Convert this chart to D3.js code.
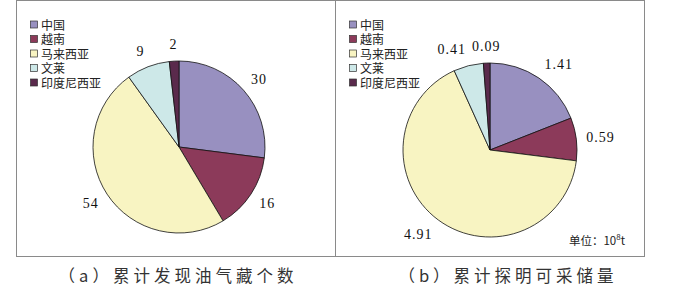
<!DOCTYPE html>
<html>
<head>
<meta charset="utf-8">
<script src="https://d3js.org/d3.v7.min.js"></script>
<style>
  body { margin: 0; background: #fff; }
  svg { display: block; }
  .legend text { font-family: "Noto Sans CJK SC", sans-serif; font-size: 12px; fill: #222; }
  .val { font-family: "Liberation Serif", serif; font-size: 14px; fill: #111; letter-spacing: 1px; }
  .caption { font-family: "Noto Sans CJK SC", sans-serif; font-size: 16.5px; fill: #333; letter-spacing: 4px; }
</style>
</head>
<body>
<div id="chart"></div>
<script>
// 数据
const countries = ["中国", "越南", "马来西亚", "文莱", "印度尼西亚"];
const poolCounts = [30, 16, 54, 9, 2];
const reserves = [1.41, 0.59, 4.91, 0.41, 0.09];
const labelsA = ["30", "16", "54", "9", "2"];
const labelsB = ["1.41", "0.59", "4.91", "0.41", "0.09"];
const colors = ["#9890c0", "#8c3a5a", "#f8f4c2", "#cde8e8", "#5a2a4c"];

const width = 700, height = 289;
const svg = d3.select("#chart").append("svg")
  .attr("width", width).attr("height", height);

const color = d3.scaleOrdinal().domain(countries).range(colors);

const panels = [
  { x0: 16, x1: 335, cx: 179, cy: 147, r: 86, values: poolCounts, labels: labelsA,
    caption: "（a）累计发现油气藏个数", capX: 178 },
  { x0: 335, x1: 644, cx: 490, cy: 150, r: 87, values: reserves, labels: labelsB,
    caption: "（b）累计探明可采储量", capX: 508, unit: true }
];

const pie = d3.pie().sort(null).value(d => d.v);

panels.forEach(p => {
  const g = svg.append("g");
  g.append("rect")
    .attr("x", p.x0 + 0.5).attr("y", 0.5)
    .attr("width", p.x1 - p.x0).attr("height", 256)
    .attr("fill", "#fff").attr("stroke", "#8a8a8a").attr("stroke-width", 1);

  const data = countries.map((c, i) => ({ c: c, v: p.values[i], label: p.labels[i] }));
  const arcs = pie(data);
  const arc = d3.arc().innerRadius(0).outerRadius(p.r);
  const labelArc = d3.arc().innerRadius(p.r + 10).outerRadius(p.r + 10);

  const pg = g.append("g").attr("transform", `translate(${p.cx},${p.cy})`);
  pg.selectAll("path").data(arcs).enter().append("path")
    .attr("d", arc)
    .attr("fill", d => color(d.data.c))
    .attr("stroke", "#111").attr("stroke-width", 0.8);

  pg.selectAll("text").data(arcs).enter().append("text")
    .attr("class", "val")
    .attr("x", d => labelArc.centroid(d)[0])
    .attr("y", d => labelArc.centroid(d)[1])
    .attr("dy", d => {
      const a = (d.startAngle + d.endAngle) / 2;
      return (0.35 - 0.5 * Math.cos(a)) + "em";
    })
    .attr("text-anchor", d => {
      const s = Math.sin((d.startAngle + d.endAngle) / 2);
      return Math.abs(s) < 0.2 ? "middle" : (s > 0 ? "start" : "end");
    })
    .text(d => d.data.label);

  // 图例
  const legend = g.append("g").attr("class", "legend")
    .attr("transform", `translate(${p.x0 + 14},18)`);
  countries.forEach((c, i) => {
    const row = legend.append("g").attr("transform", `translate(0,${i * 14.5})`);
    row.append("rect").attr("x", 0.5).attr("y", 3).attr("width", 7).attr("height", 7)
      .attr("fill", color(c)).attr("stroke", "#333").attr("stroke-width", 0.7);
    row.append("text").attr("x", 11).attr("y", 11.5).text(c);
  });

  if (p.unit) {
    const t = g.append("text").attr("x", 625).attr("y", 245)
      .attr("text-anchor", "end")
      .style("font-family", "'Noto Sans CJK SC', sans-serif")
      .style("font-size", "11.5px").style("fill", "#222");
    t.append("tspan").text("单位：10");
    t.append("tspan").attr("dy", -5).style("font-size", "8px").text("8");
    t.append("tspan").attr("dy", 5).text("t");
  }

  svg.append("text").attr("class", "caption")
    .attr("x", p.capX).attr("y", 282)
    .attr("text-anchor", "middle")
    .text(p.caption);
});
</script>
</body>
</html>
